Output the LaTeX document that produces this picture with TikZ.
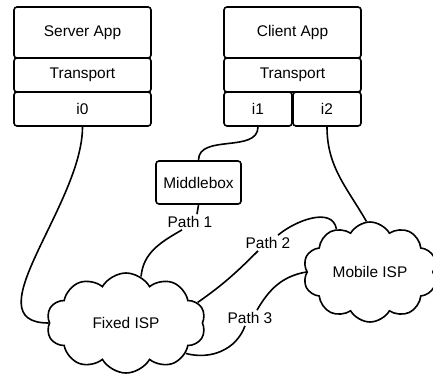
\documentclass[tikz,border=0pt]{standalone}
\usepackage{fontspec}
\setmainfont{Liberation Sans}
\usetikzlibrary{shapes.symbols}
\tikzset{layer/.style={draw,rounded corners=3bp,line width=1.6bp,inner sep=0pt}}
\tikzset{isp/.style={cloud,draw,cloud puffs=10,cloud puff arc=120,cloud ignores aspect,line width=1.6bp,inner sep=0pt}}
\tikzset{pathlabel/.style={inner sep=2bp}}
\tikzset{wire/.style={line width=1.6bp}}

\begin{document}
\begin{tikzpicture}[x=1bp,y=1bp,font=\fontsize{15.5}{18}\selectfont]
          \useasboundingbox (0,0) rectangle (433,374);

          % Server stack
          \begin{scope}[every node/.style={layer,minimum width=137bp,minimum height=34bp}]
              \node [minimum height=51bp] (sapp) at (82.5,341.5) {Server App};
              \node (strans) at (82.5,299) {Transport};
              \node (i0) at (82.5,265) {i0};
          \end{scope}

          % Client stack
          \begin{scope}[every node/.style={layer,minimum width=137bp,minimum height=34bp}]
              \node [minimum height=51bp] (capp) at (292.5,341.5) {Client App};
              \node (ctrans) at (292.5,299) {Transport};
              \node [minimum width=68bp] (i1) at (258,265) {i1};
              \node [minimum width=68bp] (i2) at (327,265) {i2};
          \end{scope}

          % Middlebox
          \node [layer,minimum width=85bp,minimum height=43bp] (mb) at (198.5,191.5) {Middlebox};

          % ISPs
          \node [isp,minimum width=159bp,minimum height=100bp] (fixed) at (126,51) {Fixed ISP};
          \node [isp,minimum width=134bp,minimum height=100bp] (mobile) at (370,102) {Mobile ISP};

          % Path labels
          \node [pathlabel] (p1) at (190,152) {Path 1};
          \node [pathlabel] (p2) at (268,131) {Path 2};
          \node [pathlabel] (p3) at (250,56) {Path 3};

          % Links
          \begin{scope}[wire]
              \draw (i0.south) to [out=-90,in=180] (fixed.west);
              \draw (i1.south) to [out=-90,in=90] (mb.north);
              \draw (i2.south) to [out=-90,in=120] (mobile.94);
              \draw (mb.south) -- ([xshift=7bp]p1.north);
              \draw ([xshift=-8bp]p1.south) to [out=-150,in=85] (fixed.72);
              \draw (fixed.16) to [out=35,in=-135] ([xshift=-10bp]p2.south);
              \draw ([xshift=10bp]p2.north) to [out=40,in=100] (mobile.128);
              \draw (fixed.-27) to [out=-15,in=-110] ([xshift=-5bp]p3.south);
              \draw ([xshift=7bp]p3.north) to [out=60,in=190] (mobile.west);
          \end{scope}
\end{tikzpicture}
\end{document}
